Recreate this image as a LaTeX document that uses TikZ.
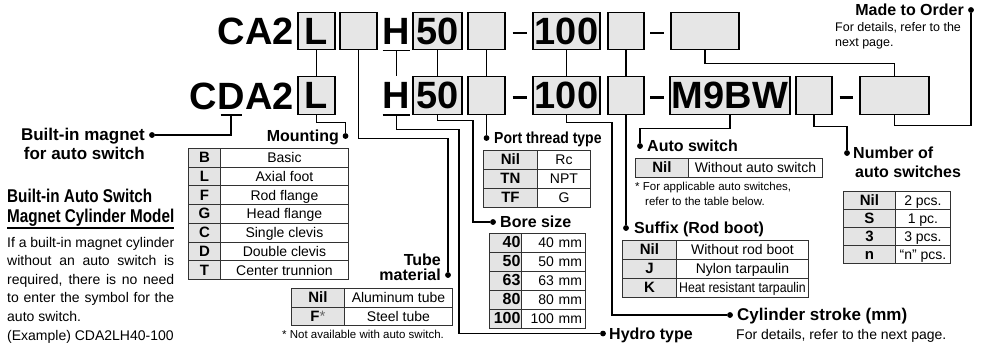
\documentclass[tikz,border=0pt]{standalone}
\usepackage{fontspec}
\setmainfont{Liberation Sans}
\newfontfamily\condfont[FakeStretch=0.825]{Liberation Sans}
\newfontfamily\portfont[FakeStretch=0.875]{Liberation Sans}
\usetikzlibrary{calc}
\definecolor{boxgray}{RGB}{230,230,230}
\definecolor{keygray}{RGB}{228,228,228}
\definecolor{tabline}{RGB}{50,50,50}
\newcommand\fbig{\fontsize{38}{40}\selectfont\bfseries}
\newcommand\fhead{\fontsize{16}{18}\selectfont\bfseries}
\newcommand\fcond{\condfont\fontsize{18.5}{20}\selectfont\bfseries}
\newcommand\ftab{\fontsize{14}{16}\selectfont}
\newcommand\fkey{\fontsize{15}{16}\selectfont\bfseries}
\newcommand\fnote{\fontsize{11.5}{13}\selectfont}
\newcommand\fbody{\fontsize{14}{18}\selectfont}
\begin{document}
\begin{tikzpicture}[x=1pt,y=-1pt,
  conn/.style={line width=1.4pt},
  codebox/.style={draw=black, fill=boxgray, line width=1.2pt, minimum height=37.5pt, inner sep=0pt, font=\fbig},
  bigtxt/.style={inner sep=0pt, font=\fbig, anchor=base east},
  htxt/.style={inner sep=0pt, font=\fbig},
  dashbar/.style={inner sep=0pt},
  dotm/.style={circle, fill=black, inner sep=0pt, minimum size=5.5pt},
  head/.style={inner sep=0pt, font=\fhead},
  note/.style={inner sep=0pt, font=\fnote, anchor=base west},
  body/.style={inner sep=0pt, font=\fbody, anchor=base west},
  cell/.style={draw=tabline, line width=0.9pt, inner sep=0pt, anchor=north west, font=\ftab, text height=11pt, text depth=1pt},
  keycell/.style={cell, fill=keygray, font=\fkey},
]
\useasboundingbox (0,0) rectangle (985,346);

% ---------- code rows ----------
\node[bigtxt] (ca2) at (294,44.6) {CA2};
\node[codebox, minimum width=37] (r1L) at (316.5,31) {L};
\node[codebox, minimum width=37] (r1e1) at (358.5,31) {};
\node[htxt] (r1H) at (396.5,31) {H};
\node[codebox, minimum width=49] (r1B) at (437.5,31) {50};
\node[codebox, minimum width=37] (r1e2) at (486.5,31) {};
\node[dashbar] (r1d1) at (519.5,33) {\rule{14pt}{2.8pt}};
\node[codebox, minimum width=67] (r1S) at (566.5,31) {100};
\node[codebox, minimum width=36] (r1e3) at (626,31) {};
\node[dashbar] (r1d2) at (657,33) {\rule{14pt}{2.8pt}};
\node[codebox, minimum width=68] (r1e4) at (705,31) {};

\node[bigtxt] (cda2a) at (294,109.1) {A2};
\node[bigtxt] (cda2d) at (cda2a.base west) {D};
\node[bigtxt] (cda2c) at (cda2d.base west) {C};
\node[codebox, minimum width=37] (r2L) at (316.5,95.5) {L};
\node[htxt] (r2H) at (396.5,95.5) {H};
\node[codebox, minimum width=49] (r2B) at (437.5,95.5) {50};
\node[codebox, minimum width=37] (r2e2) at (486.5,95.5) {};
\node[dashbar] (r2d1) at (519.5,97.5) {\rule{14pt}{2.8pt}};
\node[codebox, minimum width=67] (r2S) at (566.5,95.5) {100};
\node[codebox, minimum width=36] (r2e3) at (626,95.5) {};
\node[dashbar] (r2d2) at (657,97.5) {\rule{14pt}{2.8pt}};
\node[codebox, minimum width=120] (r2M) at (730,95.5) {M9BW};
\node[codebox, minimum width=36] (r2e5) at (814,95.5) {};
\node[dashbar] (r2d3) at (846,97.5) {\rule{13pt}{2.8pt}};
\node[codebox, minimum width=69] (r2e6) at (894.5,95.5) {};

% underlines
\draw[conn] (r1H.west |- r1L.south) -- (r1H.east |- r1L.south);
\draw[conn] (r2H.west |- r2L.south) -- (r2H.east |- r2L.south);
\draw[conn] ($(cda2d.center |- r2L.south)+(-10.5,0)$) -- ($(cda2d.center |- r2L.south)+(10.5,0)$);

% ---------- label dots ----------
\node[dotm] (dMagnet) at (152,135) {};
\node[dotm] (dMount) at (345.5,136) {};
\node[dotm] (dTube) at (448,275) {};
\node[dotm] (dHydro) at (603,333.5) {};
\node[dotm] (dBore) at (493,222) {};
\node[dotm] (dPort) at (486.5,138) {};
\node[dotm] (dStroke) at (730,315) {};
\node[dotm] (dSuffix) at (626,228) {};
\node[dotm] (dAuto) at (640,146) {};
\node[dotm] (dNum) at (847,153) {};
\node[dotm] (dMade) at (971,10) {};

% ---------- connectors ----------
\draw[conn] (r1L) -- (r2L);
\draw[conn] (r1H.center |- r1L.south) -- (r2H.center |- r2L.north);
\draw[conn] (r1B) -- (r2B);
\draw[conn] (r1e2) -- (r2e2);
\draw[conn] (r1S) -- (r2S);
\draw[conn] (r1e3) -- (r2e3);
\draw[conn] (r1e4.south) -- ++(0,13.25) -| (r2e6.north);
\draw[conn] (cda2d.center |- r2L.south) |- (dMagnet);
\draw[conn] (r2L.south) -- ++(0,7.75) -| (dMount);
\draw[conn] (r1e1.south) -- ++(0,88.25) -| (dTube);
\draw[conn] (r2H.center |- r2L.south) -- ++(0,14.75) -- ++(62.5,0) |- (dHydro);
\draw[conn] (r2B.south) -- ++(0,5.75) -- ++(35.5,0) |- (dBore);
\draw[conn] (r2e2.south) -- (dPort);
\draw[conn] (r2S.south) -- ++(0,7.75) -- ++(45.5,0) |- (dStroke);
\draw[conn] (r2e3.south) -- (dSuffix);
\draw[conn] (r2M.south) -- ++(0,13.75) -| (dAuto);
\draw[conn] (r2e5.south) -- ++(0,11.75) -| (dNum);
\draw[conn] (r2e6.south) -- ++(0,10.75) -| (dMade);
% redraw dots on top
\foreach \d in {dMagnet,dMount,dTube,dHydro,dBore,dPort,dStroke,dSuffix,dAuto,dNum,dMade}{\fill (\d) circle (2.75pt);}

% ---------- labels ----------
\node[head, font=\fontsize{17}{19}\selectfont\bfseries, anchor=base east] (tMag1) at (145,140) {Built-in magnet};
\node[head, font=\fontsize{17}{19}\selectfont\bfseries, anchor=base east] (tMag2) at (145,159) {for auto switch};
\node[head, anchor=base east] (tMount) at (339,141) {Mounting};
\node[head, anchor=base west, font=\portfont\fontsize{16}{18}\selectfont\bfseries] (tPort) at (494,143.5) {Port thread type};
\node[head, anchor=base west] (tBore) at (500,227.5) {Bore size};
\node[head, anchor=base east] (tTube1) at (441,265) {Tube};
\node[head, anchor=base east] (tTube2) at (441,280.5) {material};
\node[head, anchor=base west] (tHydro) at (609,339) {Hydro type};
\node[head, anchor=base west, font=\fontsize{17}{19}\selectfont\bfseries] (tStroke) at (737,320.5) {Cylinder stroke (mm)};
\node[inner sep=0pt, anchor=base west, font=\fontsize{14}{16}\selectfont] (tStroke2) at (736,339.5) {For details, refer to the next page.};
\node[head, anchor=base west] (tSuffix) at (634,233.5) {Suffix (Rod boot)};
\node[head, anchor=base west] (tAuto) at (647,151.5) {Auto switch};
\node[head, anchor=base west] (tNum1) at (853,158.5) {Number of};
\node[head, anchor=base west] (tNum2) at (855,177) {auto switches};
\node[head, anchor=base east] (tMade) at (964,15.5) {Made to Order};
\node[inner sep=0pt, anchor=base west, font=\fontsize{12.5}{14}\selectfont] (tMade2) at (835,31) {For details, refer to the};
\node[inner sep=0pt, anchor=base west, font=\fontsize{12.5}{14}\selectfont] (tMade3) at (835,46) {next page.};

\node[note] (nTube) at (282,338) {* Not available with auto switch.};
\node[note] (nAuto1) at (635,190) {* For applicable auto switches,};
\node[note] (nAuto2) at (645,205) {refer to the table below.};

% ---------- left column ----------
\node[inner sep=0pt, anchor=base west, font=\fcond] (lh1) at (7,202) {Built-in Auto Switch};
\node[inner sep=0pt, anchor=base west, font=\fcond] (lh2) at (7,222) {Magnet Cylinder Model};
\draw[line width=1.1pt] (7,228) -- (174,228);
\node[body] (b1) at (7,247) {\makebox[167pt][s]{If a built-in magnet cylinder}};
\node[body] (b2) at (7,265.6) {\makebox[167pt][s]{without an auto switch is}};
\node[body] (b3) at (7,284.2) {\makebox[167pt][s]{required, there is no need}};
\node[body] (b4) at (7,302.8) {\makebox[167pt][s]{to enter the symbol for the}};
\node[body] (b5) at (7,321.4) {auto switch.};
\node[body] (b6) at (7,340) {(Example) CDA2LH40-100};

% ---------- tables ----------
\foreach \k/\v [count=\i from 0] in {B/Basic, L/Axial foot, F/Rod flange, G/Head flange, C/Single clevis, D/Double clevis, T/Center trunnion}{
  \node[keycell, minimum width=32, minimum height=18.7] (mk\i) at (188,{148+18.7*\i}) {\k};
  \node[cell, minimum width=128, minimum height=18.7] (mv\i) at (220,{148+18.7*\i}) {\v};
}
\foreach \k/\v [count=\i from 0] in {Nil/Aluminum tube, {F{\fontseries{m}\selectfont\color{black!60}*}}/Steel tube}{
  \node[keycell, minimum width=53, minimum height=18.5] (tk\i) at (291,{288+18.5*\i}) {\k};
  \node[cell, minimum width=108, minimum height=18.5] (tv\i) at (344,{288+18.5*\i}) {\v};
}
\foreach \k/\v [count=\i from 0] in {Nil/Rc, TN/NPT, TF/G}{
  \node[keycell, minimum width=54, minimum height=19] (pk\i) at (483,{150+19*\i}) {\k};
  \node[cell, minimum width=53, minimum height=19] (pv\i) at (537,{150+19*\i}) {\v};
}
\foreach \k/\v [count=\i from 0] in {40/40 mm, 50/50 mm, 63/63 mm, 80/80 mm, 100/100 mm}{
  \node[keycell, font=\fontsize{16}{17}\selectfont\bfseries, minimum width=32, minimum height=19, text width=30, align=right] (bk\i) at (489,{233+19*\i}) {\k};
  \node[cell, minimum width=64, minimum height=19, text width=57, align=right] (bv\i) at (521,{233+19*\i}) {\v};
}
\node[keycell, minimum width=53, minimum height=18.5] (ak0) at (635,158) {Nil};
\node[cell, minimum width=134, minimum height=18.5] (av0) at (688,158) {Without auto switch};
\foreach \k/\v [count=\i from 0] in {Nil/Without rod boot, J/Nylon tarpaulin, K/{\scalebox{0.88}[1]{Heat resistant tarpaulin}}}{
  \node[keycell, minimum width=54, minimum height=19] (sk\i) at (622,{240+19*\i}) {\k};
  \node[cell, minimum width=132, minimum height=19] (sv\i) at (676,{240+19*\i}) {\v};
}
\foreach \k/\v [count=\i from 0] in {Nil/2 pcs., S/1 pc., 3/3 pcs., n/“n” pcs.}{
  \node[keycell, minimum width=52, minimum height=18] (nk\i) at (843,{191+18*\i}) {\k};
  \node[cell, minimum width=55, minimum height=18] (nv\i) at (895,{191+18*\i}) {\v};
}
\end{tikzpicture}
\end{document}
